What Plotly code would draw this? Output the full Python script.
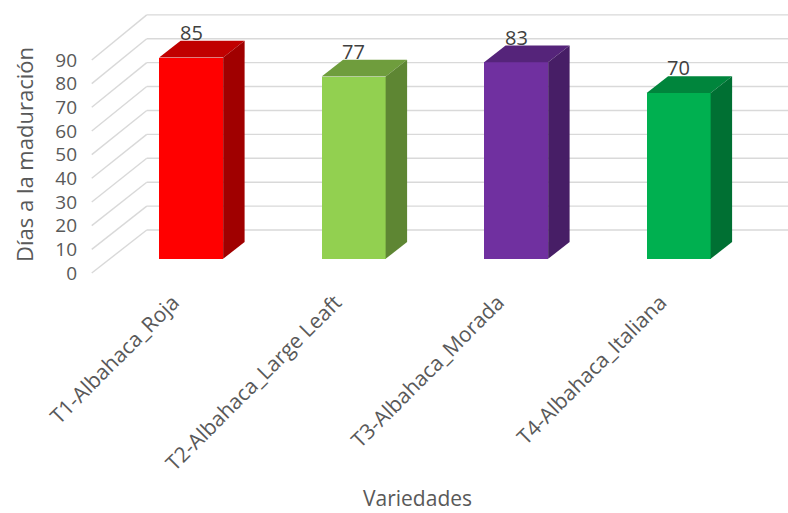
import plotly.graph_objects as go

# Days to maturity per basil variety
categories = ["T1-Albahaca_Roja", "T2-Albahaca_Large Leaft",
              "T3-Albahaca_Morada", "T4-Albahaca_Italiana"]
dias = [85, 77, 83, 70]
y_ticks = [0, 10, 20, 30, 40, 50, 60, 70, 80, 90]

front_colors = ["#FF0000", "#92D050", "#7030A0", "#00B050"]
top_colors = ["#C00000", "#6F9D3D", "#55247A", "#00853C"]
side_colors = ["#A00000", "#5E8633", "#471E66", "#007033"]

W, H = 788, 513
ML, MB = 78, 228
PLOT_W, PLOT_H = W - ML, H - MB

# oblique projection (depth expressed in axis units)
X0_PX, CAT_PX = 173.0, 162.5      # pixel of category 0 on the front plane, pixels per category
Y0_PX, PX_PER_V = 273.0, 2.367    # pixel of value 0 on the front plane, pixels per unit
DEPTH_X = 55.0 / CAT_PX           # full floor depth, horizontal shift
DEPTH_V = 43.0 / PX_PER_V         # full floor depth, vertical shift
BACK_SCALE = 1.01                 # slight perspective on the back wall
F0, F1 = 0.33, 0.72               # bar front / back depth fractions
HALF_W = 32.0 / CAT_PX            # half bar width

x_range = [(ML - X0_PX) / CAT_PX, (W - X0_PX) / CAT_PX]
y_range = [(Y0_PX - PLOT_H) / PX_PER_V, Y0_PX / PX_PER_V]

grid_color = "#D9D9D9"
text_color = "#595959"
font_family = "Open Sans"

fig = go.Figure()
shapes = []
n = len(categories)
x_left = -0.5
x_right = n - 0.5

# walls: side-wall diagonals and back-wall horizontals
for v in y_ticks:
    vb = DEPTH_V + v * BACK_SCALE
    shapes.append(dict(type="line", xref="x", yref="y", layer="below",
                       x0=x_left, y0=v, x1=x_left + DEPTH_X, y1=vb,
                       line=dict(color=grid_color, width=1.4)))
    shapes.append(dict(type="line", xref="x", yref="y", layer="below",
                       x0=x_left + DEPTH_X, y0=vb, x1=x_right + DEPTH_X + 0.2, y1=vb,
                       line=dict(color=grid_color, width=1.4)))

fx, fv = F0 * DEPTH_X, F0 * DEPTH_V
bx, bv = F1 * DEPTH_X, F1 * DEPTH_V

# front faces
fig.add_trace(go.Bar(
    x=[i + fx for i in range(n)], y=dias, base=[fv] * n, width=2 * HALF_W,
    marker=dict(color=front_colors, line=dict(width=0)),
    showlegend=False, hoverinfo="skip",
))

for i, val in enumerate(dias):
    xl, xr = i + fx - HALF_W, i + fx + HALF_W
    # top face
    fig.add_trace(go.Scatter(
        x=[xl, xr, xr + (bx - fx), xl + (bx - fx), xl],
        y=[fv + val, fv + val, bv + val, bv + val, fv + val],
        fill="toself", fillcolor=top_colors[i], mode="lines",
        line=dict(width=0, color=top_colors[i]),
        showlegend=False, hoverinfo="skip",
    ))
    # right side face
    fig.add_trace(go.Scatter(
        x=[xr, xr + (bx - fx), xr + (bx - fx), xr, xr],
        y=[fv, bv, bv + val, fv + val, fv],
        fill="toself", fillcolor=side_colors[i], mode="lines",
        line=dict(width=0, color=side_colors[i]),
        showlegend=False, hoverinfo="skip",
    ))

# value labels above each column
annotations = []
for i, val in enumerate(dias):
    annotations.append(dict(
        x=i + fx, y=val + bv + 3.6, xref="x", yref="y", text=str(val),
        showarrow=False, xanchor="center", yanchor="middle",
        font=dict(family=font_family, size=20, color="#404040"),
    ))

# axis titles
annotations.append(dict(
    x=(417.5 - ML) / PLOT_W, y=(PLOT_H - 498) / PLOT_H, xref="paper", yref="paper",
    text="Variedades", showarrow=False, xanchor="center", yanchor="middle",
    font=dict(family=font_family, size=21, color=text_color),
))
annotations.append(dict(
    x=(24 - ML) / PLOT_W, y=(PLOT_H - 155) / PLOT_H, xref="paper", yref="paper",
    text="Días a la maduración", showarrow=False, textangle=-90,
    xanchor="center", yanchor="middle",
    font=dict(family=font_family, size=22, color=text_color),
))

fig.update_layout(
    width=W, height=H,
    margin=dict(l=ML, r=0, t=0, b=MB, autoexpand=False),
    paper_bgcolor="white", plot_bgcolor="white",
    shapes=shapes, annotations=annotations,
    bargap=0, showlegend=False,
    xaxis=dict(range=x_range, tickvals=list(range(n)), ticktext=categories,
               tickangle=-45, showgrid=False, zeroline=False, showline=False,
               ticks="", automargin=False,
               tickfont=dict(family=font_family, size=21, color=text_color)),
    yaxis=dict(range=y_range, tickvals=y_ticks, showgrid=False, zeroline=False,
               showline=False, ticks="", automargin=False,
               tickfont=dict(family=font_family, size=19, color=text_color)),
)

fig.write_html("out.html")
